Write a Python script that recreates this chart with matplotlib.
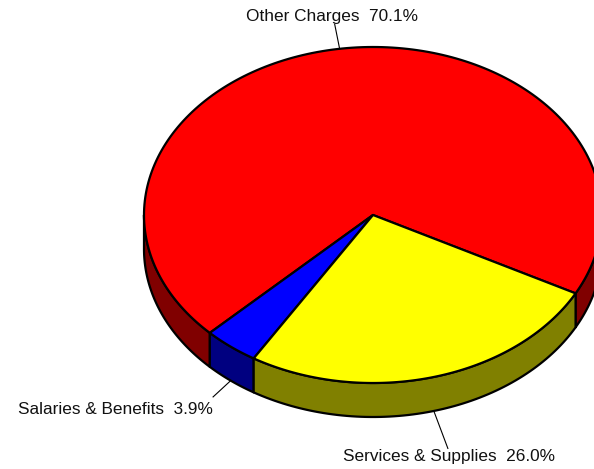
import matplotlib.pyplot as plt
import numpy as np

plt.rcParams['font.family'] = ['Liberation Sans', 'DejaVu Sans']

# budget shares, drawn counter-clockwise from the start angle
categories = ['Other Charges', 'Salaries & Benefits', 'Services & Supplies']
shares = [70.1, 3.9, 26.0]
top_colors = ['#ff0000', '#0000ff', '#ffff00']
side_colors = ['#800000', '#000080', '#808000']

# pie geometry in pixel units
cx, cy = 373, 215
rx, ry = 229, 168
depth = 34
start = -27.8


def rim(angles, dy=0.0):
    t = np.radians(angles)
    return np.column_stack([cx + rx * np.cos(t), cy - ry * np.sin(t) + dy])


fig = plt.figure(figsize=(5.94, 4.69), dpi=100)
ax = fig.add_axes([0, 0, 1, 1])
ax.set_xlim(0, 594)
ax.set_ylim(469, 0)
ax.axis('off')

bounds = start + 360 * np.concatenate([[0], np.cumsum(shares) / 100])

# outer walls, only the front half faces the viewer
for i in range(len(shares)):
    a0, a1 = bounds[i], bounds[i + 1]
    for lo, hi in [(-180, 0), (180, 360), (540, 720)]:
        s, e = max(a0, lo), min(a1, hi)
        if e <= s:
            continue
        t = np.linspace(s, e, 80)
        pts = np.vstack([rim(t), rim(t[::-1], depth)])
        ax.add_patch(plt.Polygon(pts, closed=True, facecolor=side_colors[i],
                                 edgecolor='black', lw=1.6, joinstyle='round'))

# top faces
for i in range(len(shares)):
    t = np.linspace(bounds[i], bounds[i + 1], 200)
    pts = np.vstack([[cx, cy], rim(t)])
    ax.add_patch(plt.Polygon(pts, closed=True, facecolor=top_colors[i],
                             edgecolor='black', lw=1.6, joinstyle='round'))

# leader lines and labels
lead = [25, 24, 40]
text_pos = [(332, 16, 'center', 'center'),
            (213, 409, 'right', 'center'),
            (449, 457, 'center', 'center')]
for i, name in enumerate(categories):
    mid = (bounds[i] + bounds[i + 1]) / 2
    t = np.radians(mid)
    dy = depth if np.sin(t) < 0 else 0
    p = rim([mid], dy)[0]
    d = np.array([rx * np.cos(t), -ry * np.sin(t)])
    d /= np.hypot(*d)
    q = p + d * lead[i]
    ax.plot([p[0], q[0]], [p[1], q[1]], color='black', lw=0.8)
    x, y, ha, va = text_pos[i]
    ax.text(x, y, f'{name}  {shares[i]:.1f}%', fontsize=12.45, ha=ha, va=va,
            color='#111111')

fig.savefig('out.png', dpi=100)
